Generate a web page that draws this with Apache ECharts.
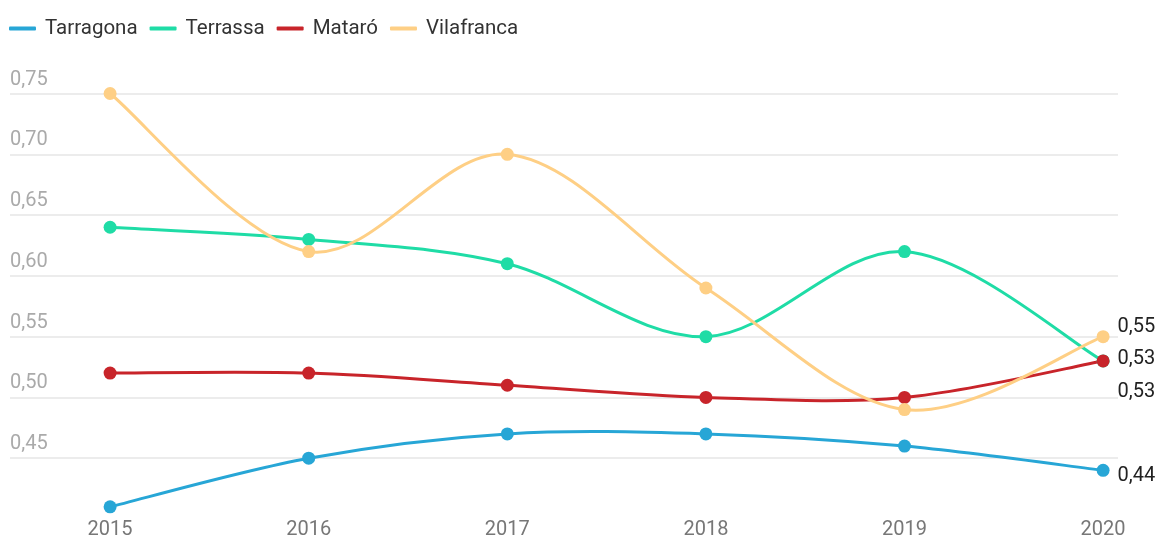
<!DOCTYPE html>
<html>
<head>
<meta charset="utf-8">
<script src="https://cdn.jsdelivr.net/npm/echarts@6/dist/echarts.min.js"></script>
<style>
  html, body { margin: 0; padding: 0; background: #fff; }
  #chart { width: 1160px; height: 540px; }
</style>
</head>
<body>
<div id="chart"></div>
<script>
const years = [2015, 2016, 2017, 2018, 2019, 2020];
const tarragona = [0.41, 0.45, 0.47, 0.47, 0.46, 0.44];
const terrassa = [0.64, 0.63, 0.61, 0.55, 0.62, 0.53];
const mataro = [0.52, 0.52, 0.51, 0.50, 0.50, 0.53];
const vilafranca = [0.75, 0.62, 0.70, 0.59, 0.49, 0.55];

const fmt = v => v.toFixed(2).replace('.', ',');

// catmull-rom curve, one bezier segment per data item (echarts smooth flattens too much)
function curveSeries(name, values, color) {
  return {
    name,
    type: 'custom',
    z: 1,
    silent: true,
    itemStyle: { color },
    data: values.map((v, i) => [years[i], v]),
    renderItem: (params, api) => {
      const i = params.dataIndex;
      const n = values.length;
      if (i >= n - 1) return null;
      const p = k => api.coord([years[Math.max(0, Math.min(n - 1, k))], values[Math.max(0, Math.min(n - 1, k))]]);
      const p0 = p(i - 1), p1 = p(i), p2 = p(i + 1), p3 = p(i + 2);
      return {
        type: 'bezierCurve',
        shape: {
          x1: p1[0], y1: p1[1],
          x2: p2[0], y2: p2[1],
          cpx1: p1[0] + (p2[0] - p0[0]) / 6, cpy1: p1[1] + (p2[1] - p0[1]) / 6,
          cpx2: p2[0] - (p3[0] - p1[0]) / 6, cpy2: p2[1] - (p3[1] - p1[1]) / 6
        },
        style: { stroke: color, lineWidth: 3, fill: null, lineCap: 'round' }
      };
    }
  };
}

function pointSeries(name, values, color, labelOffsetY) {
  const data = values.map((v, i) => {
    const item = { value: [years[i], v] };
    if (i === values.length - 1) {
      item.label = {
        show: true,
        position: 'right',
        distance: 8,
        offset: [0, labelOffsetY],
        color: '#222',
        fontSize: 20,
        fontFamily: 'Roboto',
        formatter: p => fmt(p.value[1])
      };
    }
    return item;
  });
  return {
    name,
    type: 'line',
    z: 3,
    symbol: 'circle',
    symbolSize: 13,
    lineStyle: { width: 0, opacity: 0 },
    itemStyle: { color },
    data
  };
}

const chart = echarts.init(document.getElementById('chart'));
chart.setOption({
  animation: false,
  textStyle: { fontFamily: 'Roboto' },
  legend: {
    left: 4,
    top: 13,
    icon: 'roundRect',
    itemWidth: 27,
    itemHeight: 4,
    itemGap: 12,
    textStyle: { fontSize: 20.5, color: '#333', fontFamily: 'Roboto', padding: [0, 0, 0, 4] },
    data: ['Tarragona', 'Terrassa', 'Mataró', 'Vilafranca']
  },
  grid: { left: 10, right: 42, top: 93.5, bottom: 19.5 },
  xAxis: {
    type: 'value',
    min: 2014.496,
    max: 2020.075,
    axisLine: { show: false },
    axisTick: { show: false },
    splitLine: { show: false },
    axisLabel: {
      customValues: years,
      color: '#777',
      fontSize: 20,
      margin: 1,
      formatter: v => String(v)
    }
  },
  yAxis: {
    type: 'value',
    min: 0.4,
    max: 0.75,
    interval: 0.05,
    axisLine: { show: false },
    axisTick: { show: false },
    axisLabel: {
      inside: true,
      margin: 0,
      showMinLabel: false,
      verticalAlign: 'bottom',
      padding: [0, 0, 4, 0],
      color: '#aaa',
      fontSize: 20,
      formatter: v => fmt(v)
    },
    splitLine: {
      showMinLine: false,
      lineStyle: { color: '#e6e6e6', width: 1.5 }
    }
  },
  series: [
    curveSeries('Tarragona', tarragona, '#27a6d6'),
    curveSeries('Terrassa', terrassa, '#1fdca6'),
    curveSeries('Mataró', mataro, '#c8242a'),
    curveSeries('Vilafranca', vilafranca, '#fecf85'),
    pointSeries('Tarragona', tarragona, '#27a6d6', 6),
    pointSeries('Terrassa', terrassa, '#1fdca6', 31),
    pointSeries('Mataró', mataro, '#c8242a', -2),
    pointSeries('Vilafranca', vilafranca, '#fecf85', -10)
  ]
});
</script>
</body>
</html>
